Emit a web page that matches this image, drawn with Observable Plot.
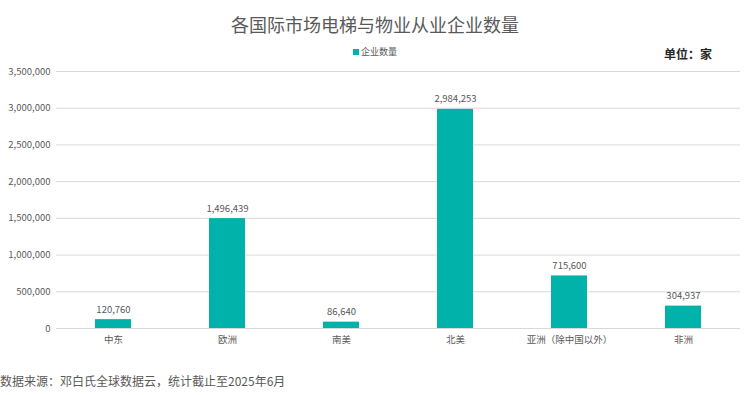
<!DOCTYPE html>
<html><head><meta charset="utf-8">
<script src="https://cdn.jsdelivr.net/npm/d3@7"></script>
<script src="https://cdn.jsdelivr.net/npm/@observablehq/plot@0.6"></script>
<style>
html,body{margin:0;padding:0;background:#fff;}
body{font-family:"Noto Sans CJK SC","Noto Sans",sans-serif;}
#wrap{position:relative;width:750px;height:395px;overflow:hidden;}
#wrap svg{position:absolute;left:0;top:0;}
.title{position:absolute;top:11px;left:0;width:750px;text-align:center;font-size:18px;color:#595959;}
.legend{position:absolute;top:45px;left:0;width:750px;text-align:center;font-size:9px;color:#595959;}
.legend span.sw{display:inline-block;width:6px;height:6px;background:#00B2A9;margin-right:2px;vertical-align:0px;}
.unit{position:absolute;top:45px;left:664px;font-size:12px;color:#262626;font-weight:bold;}
.caption{position:absolute;top:372px;left:0px;font-size:12px;color:#595959;}
</style>
</head><body>
<div id="wrap">
<div class="title">各国际市场电梯与物业从业企业数量</div>
<div class="legend"><span class="sw"></span>企业数量</div>
<div class="unit">单位：家</div>
<div class="caption">数据来源：邓白氏全球数据云，统计截止至2025年6月</div>
</div>
<script>
const categories = ["中东","欧洲","南美","北美","亚洲（除中国以外）","非洲"];
const values = [120760, 1496439, 86640, 2984253, 715600, 304937];
const yTicks = [0,500000,1000000,1500000,2000000,2500000,3000000,3500000];
const data = categories.map((c,i)=>({cat:c, v:values[i]}));
const fmt = d3.format(",");
const chart = Plot.plot({
  width: 750, height: 395,
  marginTop: 71, marginBottom: 67, marginLeft: 56, marginRight: 10,
  style: {fontFamily: '"Noto Sans CJK SC","Noto Sans",sans-serif', background: "transparent"},
  x: {domain: categories, paddingInner: 0.68, paddingOuter: 0.34, label: null},
  y: {domain: [0, 3500000], label: null},
  marks: [
    Plot.gridY(yTicks, {stroke: "#d9d9d9", strokeOpacity: 1, strokeWidth: 1}),
    Plot.axisY(yTicks, {tickSize: 0, tickPadding: 6, tickFormat: fmt, fontSize: 9.5, fill: "#595959", label: null}),
    Plot.axisX({tickSize: 0, tickPadding: 8, fontSize: 9.5, fill: "#595959", label: null}),
    Plot.barY(data, {x: "cat", y: "v", fill: "#00B2A9"}),
    Plot.text(data, {x: "cat", y: "v", text: d => fmt(d.v), dy: -10, fontSize: 9.5, fill: "#595959"})
  ]
});
document.getElementById("wrap").prepend(chart);
</script>
</body></html>
